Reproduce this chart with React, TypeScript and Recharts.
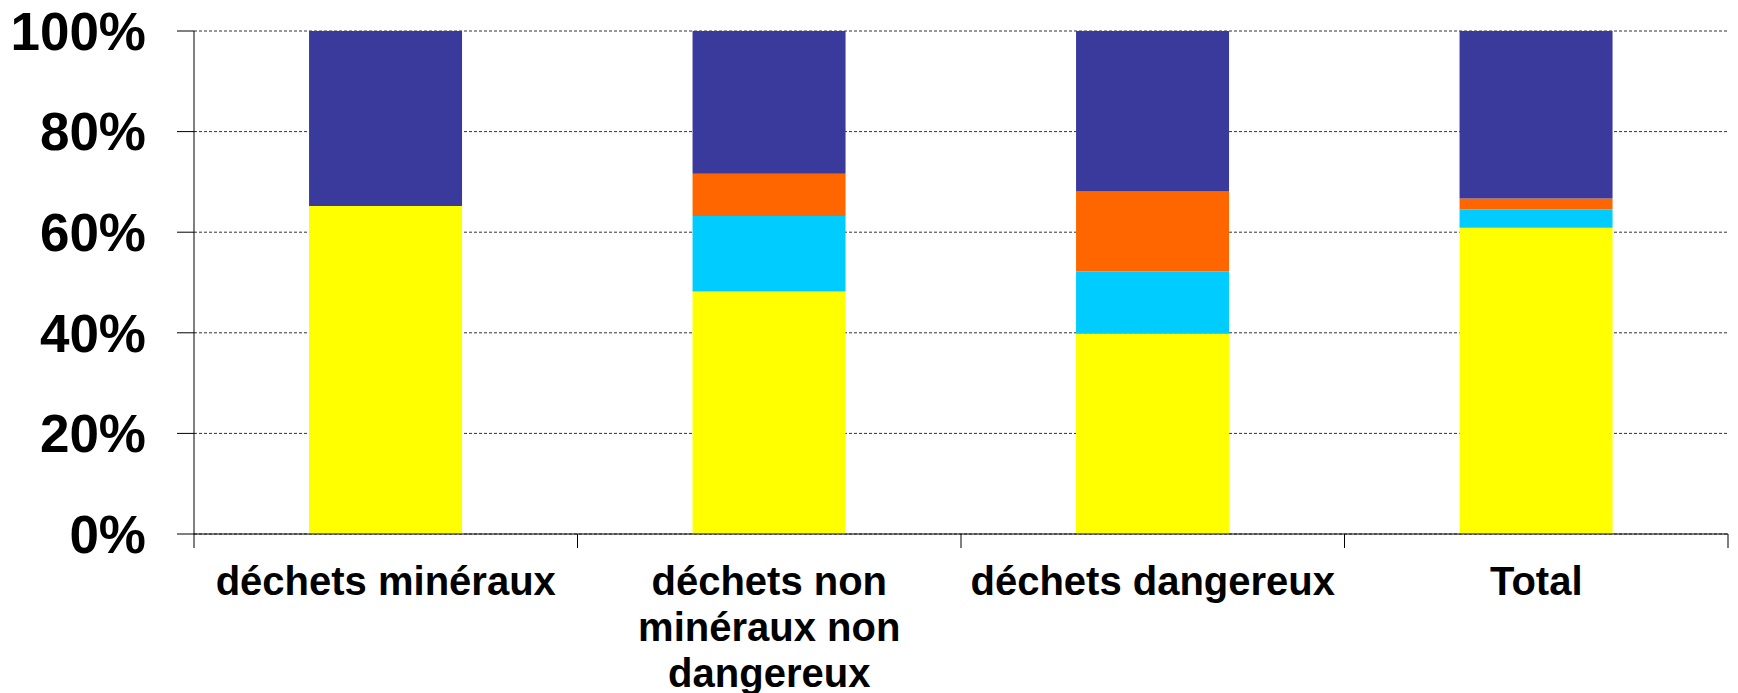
import React from "react";
import { BarChart, Bar, XAxis, YAxis, CartesianGrid } from "recharts";

const categories = [
  "déchets minéraux",
  "déchets non minéraux non dangereux",
  "déchets dangereux",
  "Total",
];
// stacked shares, bottom to top
const yellowValues = [65.2, 48.2, 39.8, 60.9];
const cyanValues = [0, 15.0, 12.4, 3.6];
const orangeValues = [0, 8.4, 15.9, 2.2];
const blueValues = [34.8, 28.4, 31.9, 33.3];
const yTicks = [0, 20, 40, 60, 80, 100];

const FONT = "'Liberation Sans', Arial, sans-serif";
const LABEL_SIZE = 40;

const data = categories.map((name, i) => ({
  name,
  yellow: yellowValues[i],
  cyan: cyanValues[i],
  orange: orangeValues[i],
  blue: blueValues[i],
}));

let ctx: CanvasRenderingContext2D | null = null;
function measure(s: string) {
  if (!ctx) {
    ctx = document.createElement("canvas").getContext("2d");
  }
  if (!ctx) return s.length * LABEL_SIZE * 0.55;
  ctx.font = `bold ${LABEL_SIZE}px ${FONT}`;
  return ctx.measureText(s).width;
}

// greedy word wrap to the category width
function wrap(label: string, maxWidth: number) {
  const lines: string[] = [];
  let cur = "";
  for (const w of label.split(" ")) {
    const next = cur ? cur + " " + w : w;
    if (cur && measure(next) > maxWidth) {
      lines.push(cur);
      cur = w;
    } else {
      cur = next;
    }
  }
  if (cur) lines.push(cur);
  return lines;
}

function CategoryTick(props: any) {
  const { x, y, payload, index } = props;
  const half = payload?.offset ?? 0;
  const isLast = index === categories.length - 1;
  const lines = wrap(String(payload.value), half * 2);
  return (
    <g>
      <line x1={x - half} x2={x - half} y1={y} y2={y + 14} stroke="#000" strokeWidth={1} />
      {isLast && (
        <line x1={x + half} x2={x + half} y1={y} y2={y + 14} stroke="#000" strokeWidth={1} />
      )}
      <text
        x={x}
        y={y + 61}
        textAnchor="middle"
        fill="#000"
        fontFamily={FONT}
        fontSize={LABEL_SIZE}
        fontWeight={700}
      >
        {lines.map((l, i) => (
          <tspan key={i} x={x} dy={i === 0 ? 0 : 46}>
            {l}
          </tspan>
        ))}
      </text>
    </g>
  );
}

export default function App() {
  return (
    <div style={{ position: "absolute", left: 0, top: 0, width: 1738, height: 693, background: "#fff" }}>
      <style>{`body { margin: 0; }`}</style>
      <BarChart
        width={1738}
        height={693}
        data={data}
        margin={{ top: 31, right: 10, left: 0, bottom: 0 }}
        barCategoryGap="30%"
      >
        <CartesianGrid vertical={false} stroke="#333" strokeDasharray="3 2" />
        <XAxis
          dataKey="name"
          height={159}
          axisLine={{ stroke: "#000", strokeWidth: 1 }}
          tickLine={false}
          tickSize={0}
          tickMargin={0}
          interval={0}
          tick={<CategoryTick />}
        />
        <YAxis
          width={194}
          domain={[0, 100]}
          ticks={yTicks}
          interval={0}
          tickFormatter={(v: number) => `${v}%`}
          axisLine={{ stroke: "#000", strokeWidth: 1 }}
          tickLine={{ stroke: "#000", strokeWidth: 1 }}
          tickSize={17}
          tickMargin={31}
          tick={{ fontFamily: FONT, fontSize: 53, fontWeight: 700, fill: "#000" }}
        />
        <Bar dataKey="yellow" stackId="a" fill="#FFFF00" isAnimationActive={false} />
        <Bar dataKey="cyan" stackId="a" fill="#00CCFF" isAnimationActive={false} />
        <Bar dataKey="orange" stackId="a" fill="#FF6600" isAnimationActive={false} />
        <Bar dataKey="blue" stackId="a" fill="#3A3A9C" isAnimationActive={false} />
      </BarChart>
    </div>
  );
}
